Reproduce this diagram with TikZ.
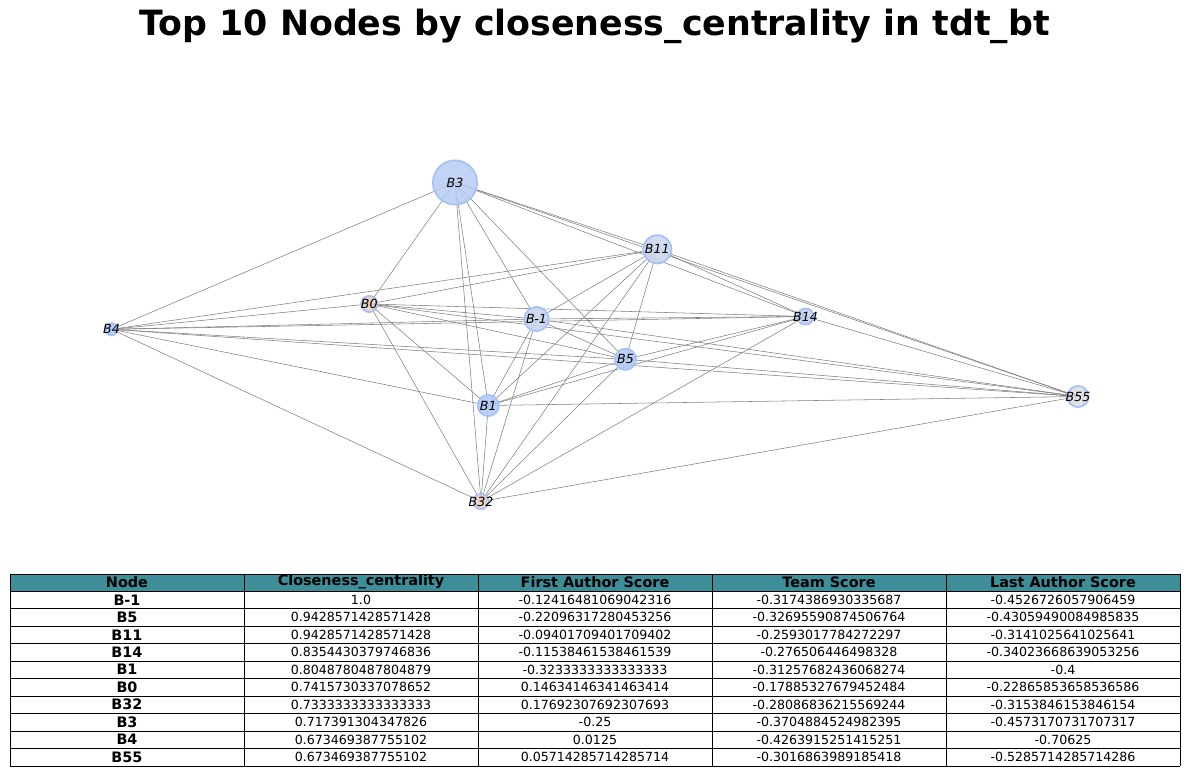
\documentclass[tikz,border=0pt]{standalone}
\usepackage{fontspec}
\setmainfont{DejaVu Sans}
\definecolor{hdr}{RGB}{61,142,152}
\definecolor{edgegray}{RGB}{128,128,128}
\definecolor{nborder}{RGB}{166,194,247}
\definecolor{c3}{RGB}{185,205,245}
\definecolor{c11}{RGB}{203,214,238}
\definecolor{cm1}{RGB}{202,214,238}
\definecolor{c0}{RGB}{233,205,192}
\definecolor{c32}{RGB}{236,208,194}
\definecolor{c55}{RGB}{223,221,224}
\definecolor{c14}{RGB}{191,208,242}
\definecolor{c5}{RGB}{179,203,248}
\definecolor{c1}{RGB}{177,201,249}
\definecolor{c4}{RGB}{176,200,249}
\tikzset{
  gedge/.style={draw=edgegray, line width=0.55pt},
  gnode/.style={circle, inner sep=0pt, draw=nborder, line width=1.8pt, fill opacity=0.88},
  glabel/.style={inner sep=0pt, font=\itshape\fontsize{12.6}{15}\selectfont},
  cellbody/.style={font=\fontsize{12.6}{14}\selectfont, inner sep=0pt},
  cellbold/.style={font=\bfseries\fontsize{14.4}{16}\selectfont, inner sep=0pt},
  gridline/.style={draw=black, line width=0.9pt},
}
\begin{document}
\begin{tikzpicture}[x=1pt,y=-1pt]
\useasboundingbox (0,0) rectangle (1189,776);
% title
\node[font=\bfseries\fontsize{34.8}{40}\selectfont, anchor=base] (title) at (594.5,36) {Top 10 Nodes by closeness\_centrality in tdt\_bt};
% node positions
\coordinate (B3) at (455,182.5);
\coordinate (B11) at (657.3,249.3);
\coordinate (B0) at (369.3,304);
\coordinate (Bm1) at (536.5,319);
\coordinate (B5) at (625.5,359.3);
\coordinate (B1) at (488.3,405.5);
\coordinate (B14) at (805.5,316.5);
\coordinate (B55) at (1078,396.5);
\coordinate (B32) at (481,501.5);
\coordinate (B4) at (111.5,329.3);
% edges (complete graph)
\foreach \a [count=\i] in {B3,B11,B0,Bm1,B5,B1,B14,B55,B32,B4}{
  \foreach \b [count=\j] in {B3,B11,B0,Bm1,B5,B1,B14,B55,B32,B4}{
    \ifnum\j>\i
      \draw[gedge] (\a) -- (\b);
    \fi
  }
}
% nodes
\foreach \n/\r/\c/\t in {B3/23/c3/B3, B11/15/c11/B11, B0/9/c0/B0, Bm1/13/cm1/B-1, B5/11.5/c5/B5, B1/11.5/c1/B1, B14/9/c14/B14, B55/11.5/c55/B55, B32/8.5/c32/B32, B4/7/c4/B4}{
  \node[gnode, minimum size=2*\r pt-1.8pt, fill=\c] (n\n) at (\n) {};
  \node[glabel] (l\n) at (\n) {\t};
}
% table
\fill[hdr] (10,574) rectangle (1180,591.45);
\foreach \k in {0,...,11}{
  \draw[gridline] (10,574+17.45*\k) -- (1180,574+17.45*\k);
}
\foreach \cx in {10,244,478,712,946,1180}{
  \draw[gridline] (\cx,574) -- (\cx,766);
}
\foreach \h [count=\c] in {Node,Closeness\_centrality,First Author Score,Team Score,Last Author Score}{
  \node[cellbold] (h\c) at (127+234*\c-234,581.8) {\h};
}
\foreach \nm/\va/\vb/\vc/\vd [count=\r] in {
 B-1/1.0/-0.12416481069042316/-0.3174386930335687/-0.4526726057906459,
 B5/0.9428571428571428/-0.22096317280453256/-0.32695590874506764/-0.43059490084985835,
 B11/0.9428571428571428/-0.09401709401709402/-0.2593017784272297/-0.3141025641025641,
 B14/0.8354430379746836/-0.11538461538461539/-0.276506446498328/-0.34023668639053256,
 B1/0.8048780487804879/-0.3233333333333333/-0.31257682436068274/-0.4,
 B0/0.7415730337078652/0.14634146341463414/-0.17885327679452484/-0.22865853658536586,
 B32/0.7333333333333333/0.17692307692307693/-0.28086836215569244/-0.3153846153846154,
 B3/0.717391304347826/-0.25/-0.3704884524982395/-0.4573170731707317,
 B4/0.673469387755102/0.0125/-0.4263915251415251/-0.70625,
 B55/0.673469387755102/0.05714285714285714/-0.3016863989185418/-0.5285714285714286}{
  \pgfmathsetmacro{\yy}{574+17.45*\r+8.4}
  \node[cellbold] (r\r a) at (127,\yy) {\nm};
  \node[cellbody] (r\r b) at (361,\yy) {\va};
  \node[cellbody] (r\r c) at (595,\yy) {\vb};
  \node[cellbody] (r\r d) at (829,\yy) {\vc};
  \node[cellbody] (r\r e) at (1063,\yy) {\vd};
}
\end{tikzpicture}
\end{document}
